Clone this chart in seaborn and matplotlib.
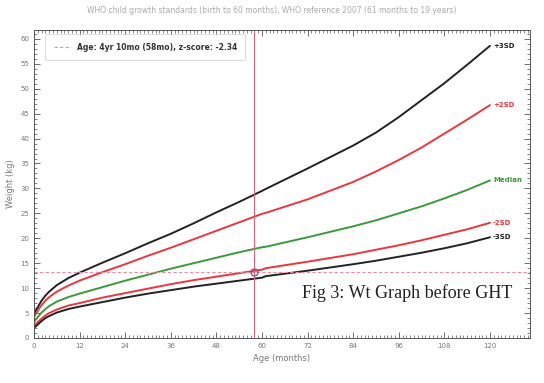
import numpy as np
import pandas as pd
import matplotlib
matplotlib.use("Agg")
import matplotlib.pyplot as plt
from matplotlib.ticker import MultipleLocator
import seaborn as sns

# ==============================
# Data
# ==============================

ages = [0, 1, 2, 3, 4, 6, 9, 12, 18, 24, 30, 36, 42, 48, 54, 60, 61,
        72, 84, 90, 96, 102, 108, 114, 120]

plus3 = [4.8, 6.2, 7.5, 8.5, 9.3, 10.6, 12.0, 13.1, 15.1, 17.0, 19.0, 20.9, 23.0, 25.2, 27.3, 29.5, 29.9,
         34.0, 38.6, 41.2, 44.3, 47.7, 51.1, 54.8, 58.6]
plus2 = [4.2, 5.5, 6.6, 7.5, 8.2, 9.3, 10.5, 11.5, 13.2, 14.8, 16.5, 18.1, 19.8, 21.5, 23.2, 24.9, 25.1,
         27.8, 31.3, 33.4, 35.7, 38.2, 41.0, 43.8, 46.7]
median = [3.2, 4.2, 5.1, 5.8, 6.4, 7.3, 8.2, 8.9, 10.2, 11.5, 12.7, 13.9, 15.0, 16.1, 17.2, 18.2, 18.3,
          20.2, 22.4, 23.6, 25.0, 26.4, 28.0, 29.7, 31.6]
minus2 = [2.4, 3.2, 3.9, 4.5, 5.0, 5.7, 6.5, 7.0, 8.1, 9.0, 9.9, 10.8, 11.6, 12.3, 13.0, 13.7, 14.0,
          15.3, 16.8, 17.7, 18.6, 19.6, 20.7, 21.8, 23.1]
minus3 = [2.0, 2.7, 3.4, 4.0, 4.4, 5.1, 5.8, 6.3, 7.2, 8.1, 8.9, 9.6, 10.3, 10.9, 11.5, 12.1, 12.4,
          13.5, 14.8, 15.5, 16.3, 17.1, 18.0, 19.0, 20.2]

curve_names = ["+3SD", "+2SD", "Median", "-2SD", "-3SD"]
curve_colors = ["#222222", "#e8383d", "#3a9a3a", "#e8383d", "#222222"]

patient_age = 58
patient_weight = 13.2

# ==============================
# Long-form table
# ==============================

rows = []
for name, vals in zip(curve_names, [plus3, plus2, median, minus2, minus3]):
    for a, w in zip(ages, vals):
        rows.append({"age": a, "weight": w, "curve": name})
df = pd.DataFrame(rows)

# ==============================
# Plot
# ==============================

sns.set_style("ticks")
plt.rcParams["font.family"] = ["DejaVu Sans"]

fig = plt.figure(figsize=(5.44, 3.83), dpi=100)
ax = fig.add_axes([0.0625, 0.1175, 0.9115, 0.8045])

palette = dict(zip(curve_names, curve_colors))
sns.lineplot(data=df, x="age", y="weight", hue="curve", palette=palette,
             linewidth=1.4, legend=False, ax=ax)

# patient marker lines
ax.axhline(patient_weight, color="#f08aa0", linestyle=(0, (3, 2)), linewidth=0.8)
ax.axvline(patient_age, color="#e06078", linewidth=0.8)
ax.plot([patient_age], [patient_weight], marker="o", markersize=5,
        markerfacecolor="none", markeredgecolor="#8a4a8a", markeredgewidth=0.9)

# curve end labels
for name, vals, c in zip(curve_names, [plus3, plus2, median, minus2, minus3], curve_colors):
    ax.text(ages[-1] + 0.8, vals[-1], name, color=c, fontsize=5, fontweight="bold",
            va="center", ha="left")

ax.set_xlim(0, 130.5)
ax.set_ylim(0, 61.8)
ax.xaxis.set_major_locator(MultipleLocator(12))
ax.xaxis.set_minor_locator(MultipleLocator(1))
ax.yaxis.set_major_locator(MultipleLocator(5))
ax.yaxis.set_minor_locator(MultipleLocator(1))
ax.tick_params(which="both", direction="in", top=True, right=True, colors="#555555",
               labelsize=5, labelcolor="#777777")
ax.tick_params(which="major", length=4, width=0.6)
ax.tick_params(which="minor", length=2, width=0.5)
for s in ax.spines.values():
    s.set_color("#555555")
    s.set_linewidth(0.7)

ax.set_xlabel("Age (months)", fontsize=6, color="#777777")
ax.set_ylabel("Weight (kg)", fontsize=6, color="#777777")

fig.suptitle("WHO child growth standards (birth to 60 months), WHO reference 2007 (61 months to 19 years)",
             fontsize=5.5, color="#aaaaaa", y=0.985)

# legend box
leg_line, = ax.plot([], [], color="#f08aa0", linestyle=(0, (3, 2)), linewidth=0.8)
leg = ax.legend([leg_line], ["Age: 4yr 10mo (58mo), z-score: -2.34"], loc="upper left",
                fontsize=5.5, frameon=True, borderpad=0.8, handlelength=2.2,
                bbox_to_anchor=(0.02, 0.99))
leg.get_frame().set_edgecolor("#cccccc")
leg.get_frame().set_linewidth(0.6)
leg.get_frame().set_boxstyle("square")
for t in leg.get_texts():
    t.set_fontweight("bold")
    t.set_color("#333333")

ax.text(0.54, 0.145, "Fig 3: Wt Graph before GHT", transform=ax.transAxes,
        fontsize=13, family="Liberation Serif", color="#222222", ha="left", va="center")

fig.savefig("out.png", dpi=100)
